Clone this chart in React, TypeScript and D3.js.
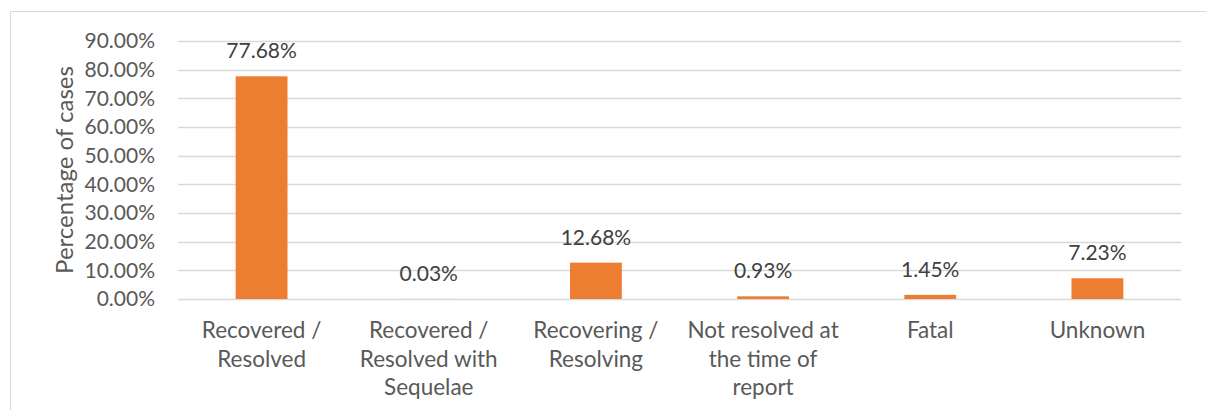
import { useEffect, useRef } from 'react';
import * as d3 from 'd3';

const categories = [
  'Recovered / Resolved',
  'Recovered / Resolved with Sequelae',
  'Recovering / Resolving',
  'Not resolved at the time of report',
  'Fatal',
  'Unknown',
];

// how Excel wrapped the category labels
const categoryLines = [
  ['Recovered /', 'Resolved'],
  ['Recovered /', 'Resolved with', 'Sequelae'],
  ['Recovering /', 'Resolving'],
  ['Not resolved at', 'the time of', 'report'],
  ['Fatal'],
  ['Unknown'],
];

const percentages = [77.68, 0.03, 12.68, 0.93, 1.45, 7.23];

const yTicks = [0, 10, 20, 30, 40, 50, 60, 70, 80, 90];

const FONT = 'Lato, "Open Sans", sans-serif';

const App = () => {
  const svgRef = useRef<SVGSVGElement>(null);

  useEffect(() => {
    if (!svgRef.current) return;
    const svg = d3.select(svgRef.current);
    svg.selectAll('*').remove();

    const width = 1206;
    const height = 410;
    const left = 178;
    const right = 1181;
    const top = 41;
    const bottom = 299;

    // chart frame
    svg.append('rect')
      .attr('x', 10.5)
      .attr('y', 11.5)
      .attr('width', width)
      .attr('height', height)
      .attr('fill', 'white')
      .attr('stroke', '#d9d9d9')
      .attr('stroke-width', 1);

    const x = d3.scaleBand<string>()
      .domain(categories)
      .range([left, right])
      .paddingInner(0.69)
      .paddingOuter(0.345);

    const y = d3.scaleLinear()
      .domain([0, 90])
      .range([bottom, top]);

    // gridlines
    svg.append('g')
      .selectAll('line')
      .data(yTicks)
      .enter()
      .append('line')
      .attr('x1', left)
      .attr('x2', right)
      .attr('y1', d => Math.round(y(d)) + 0.5)
      .attr('y2', d => Math.round(y(d)) + 0.5)
      .attr('stroke', '#d9d9d9')
      .attr('stroke-width', 1.5);

    // y tick labels
    svg.append('g')
      .selectAll('text')
      .data(yTicks)
      .enter()
      .append('text')
      .attr('x', 155)
      .attr('y', d => y(d))
      .attr('dy', '0.35em')
      .attr('text-anchor', 'end')
      .attr('fill', '#595959')
      .style('font-family', FONT)
      .style('font-size', '21px')
      .text(d => d.toFixed(2) + '%');

    // axis title
    svg.append('text')
      .attr('transform', `translate(73,${(top + bottom) / 2}) rotate(-90)`)
      .attr('text-anchor', 'middle')
      .attr('fill', '#595959')
      .style('font-family', FONT)
      .style('font-size', '24px')
      .text('Percentage of cases');

    const data = categories.map((c, i) => ({ category: c, value: percentages[i], lines: categoryLines[i] }));

    // bars
    svg.append('g')
      .selectAll('rect')
      .data(data)
      .enter()
      .append('rect')
      .attr('x', d => x(d.category)!)
      .attr('width', x.bandwidth())
      .attr('y', d => y(d.value))
      .attr('height', d => bottom - y(d.value))
      .attr('fill', '#ed7d31');

    // data labels
    svg.append('g')
      .selectAll('text')
      .data(data)
      .enter()
      .append('text')
      .attr('x', d => x(d.category)! + x.bandwidth() / 2)
      .attr('y', d => y(d.value) - 18)
      .attr('text-anchor', 'middle')
      .attr('fill', '#404040')
      .style('font-family', FONT)
      .style('font-size', '21px')
      .text(d => d.value.toFixed(2) + '%');

    // category labels
    const cat = svg.append('g')
      .selectAll('text')
      .data(data)
      .enter()
      .append('text')
      .attr('text-anchor', 'middle')
      .attr('fill', '#595959')
      .style('font-family', FONT)
      .style('font-size', '22.5px');

    cat.selectAll('tspan')
      .data(d => d.lines.map(line => ({ line, cx: x(d.category)! + x.bandwidth() / 2 })))
      .enter()
      .append('tspan')
      .attr('x', d => d.cx)
      .attr('y', (_, i) => 338 + i * 28.6)
      .text(d => d.line);
  }, []);

  return (
    <div style={{ position: 'absolute', left: 0, top: 0, width: 1206, height: 410, overflow: 'hidden', background: 'white' }}>
      <svg ref={svgRef} width={1206} height={410}></svg>
    </div>
  );
};

export default App;
